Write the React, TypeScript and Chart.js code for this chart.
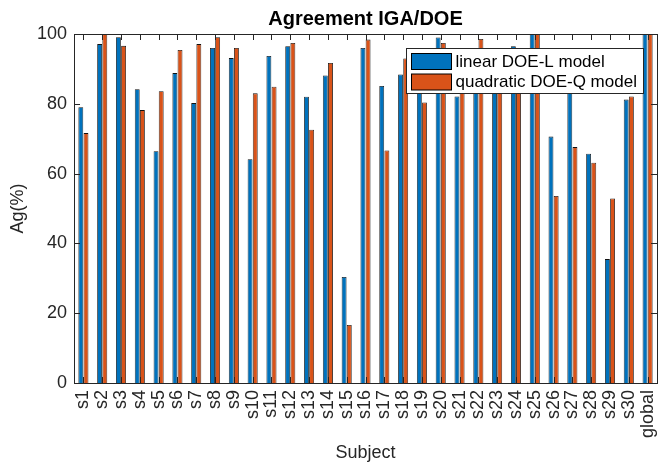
import React, { useEffect, useRef } from 'react';
import { Chart, registerables } from 'chart.js';

Chart.register(...registerables);

const categories = [
  's1', 's2', 's3', 's4', 's5', 's6', 's7', 's8', 's9', 's10',
  's11', 's12', 's13', 's14', 's15', 's16', 's17', 's18', 's19', 's20',
  's21', 's22', 's23', 's24', 's25', 's26', 's27', 's28', 's29', 's30', 'global',
];

const linearValues = [
  79.0, 97.1, 99.1, 84.2, 66.4, 88.8, 80.2, 96.0, 93.1, 64.1,
  93.7, 96.5, 82.0, 88.1, 30.4, 96.0, 85.1, 88.4, 88.0, 99.0,
  82.1, 90.0, 92.0, 96.5, 100, 70.6, 88.0, 65.7, 35.5, 81.2, 100,
];

const quadraticValues = [
  71.6, 100, 96.6, 78.2, 83.6, 95.4, 97.1, 99.1, 96.0, 83.0,
  84.9, 97.4, 72.6, 91.7, 16.6, 98.4, 66.6, 93.0, 80.4, 97.4,
  85.0, 98.6, 91.0, 94.0, 100, 53.6, 67.6, 63.1, 52.9, 82.1, 100,
];

const yTicks = [0, 20, 40, 60, 80, 100];
const seriesLabels = ['linear DOE-L model', 'quadratic DOE-Q model'];
const seriesColors = ['#0072BD', '#D95319'];

const FONT = "'Liberation Sans', Arial, Helvetica, sans-serif";
const AXIS_COLOR = '#262626';

const boxPlugin = {
  id: 'matlabBox',
  afterDatasetsDraw(chart: any) {
    const { ctx, chartArea, scales } = chart;
    const { left, right, top, bottom } = chartArea;
    const x = scales.x;
    const y = scales.y;
    const tl = 6;
    ctx.save();
    ctx.strokeStyle = AXIS_COLOR;
    ctx.lineWidth = 1;
    ctx.beginPath();
    categories.forEach((_, i) => {
      const px = Math.round(x.getPixelForValue(i)) + 0.5;
      ctx.moveTo(px, top);
      ctx.lineTo(px, top + tl);
      ctx.moveTo(px, bottom);
      ctx.lineTo(px, bottom - tl);
    });
    yTicks.forEach((v) => {
      const py = Math.round(y.getPixelForValue(v)) + 0.5;
      ctx.moveTo(left, py);
      ctx.lineTo(left + tl, py);
      ctx.moveTo(right, py);
      ctx.lineTo(right - tl, py);
    });
    ctx.stroke();
    ctx.strokeRect(
      Math.round(left) + 0.5,
      Math.round(top) + 0.5,
      Math.round(right - left),
      Math.round(bottom - top)
    );
    ctx.restore();
  },
};

const legendPlugin = {
  id: 'insideLegend',
  afterDraw(chart: any) {
    const { ctx, chartArea } = chart;
    const { right, top } = chartArea;
    const fontSize = 17;
    ctx.save();
    ctx.font = `${fontSize}px ${FONT}`;
    const datasets = chart.data.datasets;
    let maxText = 0;
    datasets.forEach((d: any) => {
      maxText = Math.max(maxText, ctx.measureText(d.label).width);
    });
    const padL = 5;
    const swW = 40;
    const gap = 4;
    const padR = 7;
    const rowH = 20.5;
    const boxW = padL + swW + gap + maxText + padR;
    const boxH = 45;
    const bx = Math.round(right - 14 - boxW) + 0.5;
    const by = Math.round(top + 14) + 0.5;
    ctx.fillStyle = '#ffffff';
    ctx.fillRect(bx, by, boxW, boxH);
    ctx.strokeStyle = AXIS_COLOR;
    ctx.lineWidth = 1;
    ctx.strokeRect(bx, by, Math.round(boxW), boxH);
    datasets.forEach((d: any, i: number) => {
      const sy = by + 5 + i * rowH;
      ctx.fillStyle = d.backgroundColor;
      ctx.fillRect(bx + padL, sy, swW, 16);
      ctx.strokeStyle = '#000';
      ctx.strokeRect(bx + padL, sy, swW, 16);
      ctx.fillStyle = '#000';
      ctx.textBaseline = 'middle';
      ctx.textAlign = 'left';
      ctx.fillText(d.label, bx + padL + swW + gap, sy + 8.5);
    });
    ctx.restore();
  },
};

export default function App() {
  const canvasRef = useRef<HTMLCanvasElement | null>(null);

  useEffect(() => {
    document.body.style.margin = '0';
    document.body.style.overflow = 'hidden';
    const canvas = canvasRef.current;
    if (!canvas) return;
    const chart = new Chart(canvas, {
      type: 'bar',
      data: {
        labels: categories,
        datasets: [
          {
            label: seriesLabels[0],
            data: linearValues,
            backgroundColor: seriesColors[0],
            borderColor: '#111111',
            borderWidth: 0.8,
            categoryPercentage: 0.55,
            barPercentage: 0.94,
          },
          {
            label: seriesLabels[1],
            data: quadraticValues,
            backgroundColor: seriesColors[1],
            borderColor: '#111111',
            borderWidth: 0.8,
            categoryPercentage: 0.55,
            barPercentage: 0.94,
          },
        ],
      },
      options: {
        responsive: false,
        animation: false,
        devicePixelRatio: 1,
        layout: { padding: { left: 0, right: 5, top: 0, bottom: 0 } },
        plugins: {
          legend: { display: false },
          tooltip: { enabled: false },
          title: {
            display: true,
            text: 'Agreement IGA/DOE',
            color: '#000000',
            fullSize: false,
            font: { family: FONT, size: 20, weight: 'bold' },
            padding: { top: 7, bottom: 3 },
          },
        },
        scales: {
          x: {
            grid: { display: false, drawTicks: false },
            border: { display: false },
            ticks: {
              autoSkip: false,
              minRotation: 90,
              maxRotation: 90,
              padding: 7,
              color: AXIS_COLOR,
              font: { family: FONT, size: 18 },
            },
            title: {
              display: true,
              text: 'Subject',
              color: AXIS_COLOR,
              font: { family: FONT, size: 18 },
              padding: { top: 0, bottom: 3 },
            },
            afterFit: (s: any) => {
              s.height = 84;
              s.paddingLeft = 0;
              s.paddingRight = 0;
            },
          },
          y: {
            min: 0,
            max: 100,
            afterBuildTicks: (s: any) => {
              s.ticks = yTicks.map((v) => ({ value: v }));
            },
            grid: { display: false, drawTicks: false },
            border: { display: false },
            ticks: {
              padding: 7,
              color: AXIS_COLOR,
              font: { family: FONT, size: 18 },
            },
            title: {
              display: true,
              text: 'Ag(%)',
              color: AXIS_COLOR,
              font: { family: FONT, size: 18 },
              padding: { top: 7, bottom: 0 },
            },
            afterFit: (s: any) => {
              s.width = 74;
              s.paddingTop = 0;
              s.paddingBottom = 0;
            },
          },
        },
      } as any,
      plugins: [boxPlugin, legendPlugin],
    });
    return () => chart.destroy();
  }, []);

  return (
    <div style={{ width: 662, height: 467, background: '#fff' }}>
      <canvas ref={canvasRef} width={662} height={467} style={{ display: 'block' }} />
    </div>
  );
}
